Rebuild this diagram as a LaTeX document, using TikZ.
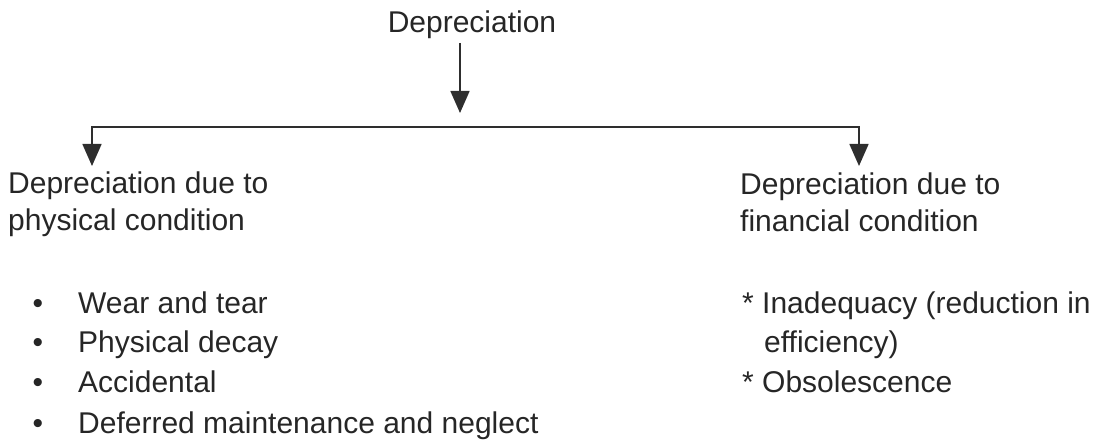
\documentclass[tikz,border=0pt]{standalone}
\usepackage{fontspec}
\setmainfont{Liberation Sans}
\usetikzlibrary{arrows.meta}
\definecolor{ink}{HTML}{262626}
\definecolor{linec}{HTML}{2E2E2E}
\tikzset{
  txt/.style={anchor=base west, inner sep=0pt, text=ink, font=\fontsize{30}{36}\selectfont},
  ctxt/.style={txt, anchor=base},
  conn/.style={draw=linec, line width=1.6pt, line join=miter},
  tipd/.style={-{Triangle[width=19pt,length=22pt]}},
  tipb/.style={{Triangle[width=19pt,length=22pt]}-{Triangle[width=19pt,length=22pt]}}
}
\begin{document}
\begin{tikzpicture}[x=1pt,y=1pt]
\useasboundingbox (0,0) rectangle (1104,440);
% top
\node[ctxt] (top) at (472,407) {Depreciation};
\coordinate (t1) at (460,397);
\coordinate (t2) at (460,327);
\draw[conn,tipd] (t1) -- (t2);
% branches
\coordinate (bl) at (92,313);
\coordinate (br) at (859,313);
\coordinate (tl) at (92,274);
\coordinate (tr) at (859,274);
\draw[conn,tipb] (tl) -- (bl) -- (br) -- (tr);
% left header
\node[txt] (lh1) at (8,247) {Depreciation due to};
\node[txt] (lh2) at (8,210) {physical condition};
% right header
\node[txt] (rh1) at (740,245) {Depreciation due to};
\node[txt] (rh2) at (740,208) {financial condition};
% left list
\foreach \y/\t/\n in {127/Wear and tear/l1, 88/Physical decay/l2, 48/Accidental/l3, 7/Deferred maintenance and neglect/l4}{
  \node[ctxt] (b\n) at (38,\y) {•};
  \node[txt] (\n) at (78,\y) {\t};
}
% right list
\node[txt] (s1) at (742,127) {*};
\node[txt] (r1) at (762,127) {Inadequacy (reduction in};
\node[txt] (r2) at (764,88) {efficiency)};
\node[txt] (s2) at (742,48) {*};
\node[txt] (r3) at (762,48) {Obsolescence};
\end{tikzpicture}
\end{document}
